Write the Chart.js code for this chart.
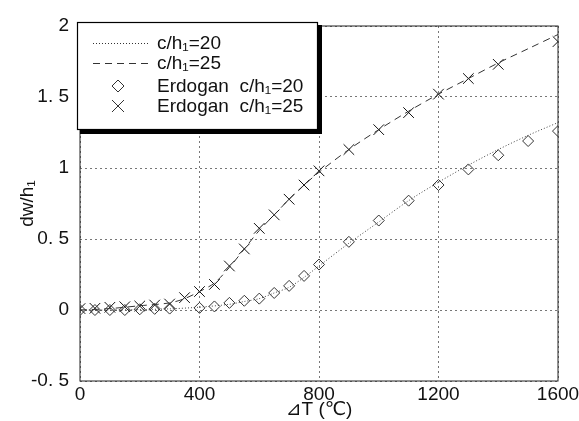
<!DOCTYPE html>
<html><head><meta charset="utf-8">
<script src="https://cdn.jsdelivr.net/npm/chart.js@4"></script>
<style>html,body{margin:0;padding:0;background:#fff}#wrap{width:579px;height:421px}</style>
</head><body><div id="wrap"><canvas id="c" width="579" height="421"></canvas></div>
<script>
const lineX20 = [0,100,200,300,400,500,550,600,650,700,750,800,900,1000,1100,1200,1300,1400,1500,1600];
const lineY20 = [0,0,0.003,0.008,0.02,0.04,0.06,0.08,0.12,0.16,0.23,0.31,0.47,0.62,0.77,0.90,1.02,1.13,1.23,1.32];
const lineX25 = [0,100,200,300,350,400,450,500,550,600,650,700,750,800,900,1000,1100,1200,1300,1400,1500,1600];
const lineY25 = [0,0.01,0.03,0.05,0.08,0.13,0.19,0.30,0.43,0.56,0.67,0.78,0.88,0.97,1.13,1.27,1.40,1.52,1.63,1.74,1.84,1.94];
const erdX20 = [0,50,100,150,200,250,300,400,450,500,550,600,650,700,750,800,900,1000,1100,1200,1300,1400,1500,1600];
const erdY20 = [0,0,0,0,0.005,0.008,0.01,0.015,0.025,0.05,0.065,0.08,0.12,0.17,0.24,0.32,0.48,0.63,0.77,0.88,0.99,1.09,1.19,1.26];
const erdX25 = [0,50,100,150,200,250,300,350,400,450,500,550,600,650,700,750,800,900,1000,1100,1200,1300,1400,1600];
const erdY25 = [0.01,0.012,0.019,0.023,0.028,0.035,0.042,0.087,0.13,0.18,0.31,0.43,0.575,0.67,0.78,0.88,0.98,1.13,1.27,1.39,1.52,1.63,1.73,1.89];
const labels = ['c/h\u2081=20','c/h\u2081=25','Erdogan  c/h\u2081=20','Erdogan  c/h\u2081=25'];
const xTicks = [0,400,800,1200,1600];
const yTicks = [-0.5,0,0.5,1,1.5,2];

const pts = (xs, ys) => xs.map((x,i)=>({x:x,y:ys[i]}));
const FONT = '"Liberation Sans","DejaVu Sans",sans-serif';

const frameLegend = {
  id:'frameLegend',
  afterDraw(chart){
    const ctx = chart.ctx, a = chart.chartArea;
    ctx.save();
    ctx.strokeStyle = '#222'; ctx.lineWidth = 1; ctx.setLineDash([]);
    ctx.strokeRect(a.left, a.top, a.right-a.left, a.bottom-a.top);
    const L=77, T=22, R=318, B=130;
    ctx.fillStyle='#000';
    ctx.fillRect(R-1, T+3, 5, B-T+1);
    ctx.fillRect(L+3, B-1, R-L+1, 5);
    ctx.fillStyle='#fff';
    ctx.fillRect(L, T, R-L, B-T);
    ctx.strokeStyle='#000'; ctx.lineWidth=1.2;
    ctx.strokeRect(L+0.5, T+0.5, R-L-1, B-T-1);
    const ys=[43,63,86,106];
    ctx.font = '19px '+FONT;
    ctx.textBaseline='middle'; ctx.textAlign='left';
    chart.data.datasets.forEach((ds,i)=>{
      const y=ys[i];
      ctx.strokeStyle='#333'; ctx.lineWidth=1;
      if(i<2){
        ctx.setLineDash(ds.borderDash);
        ctx.beginPath(); ctx.moveTo(93,y+0.5); ctx.lineTo(148,y+0.5); ctx.stroke();
        ctx.setLineDash([]);
      } else if(i===2){
        ctx.beginPath(); ctx.moveTo(118,y-6); ctx.lineTo(124,y); ctx.lineTo(118,y+6); ctx.lineTo(112,y); ctx.closePath(); ctx.stroke();
      } else {
        ctx.beginPath(); ctx.moveTo(112,y-6); ctx.lineTo(124,y+6); ctx.moveTo(124,y-6); ctx.lineTo(112,y+6); ctx.stroke();
      }
      ctx.fillStyle='#111';
      ctx.fillText(ds.label, 157, y+1);
    });
    ctx.restore();
  }
};

new Chart(document.getElementById('c'), {
  type:'scatter',
  data:{datasets:[
    {label:labels[0], data:pts(lineX20,lineY20), showLine:true, borderColor:'#444', borderWidth:1, borderDash:[1,2], pointRadius:0, tension:0.3},
    {label:labels[1], data:pts(lineX25,lineY25), showLine:true, borderColor:'#333', borderWidth:1, borderDash:[7,5], pointRadius:0, tension:0.3},
    {label:labels[2], data:pts(erdX20,erdY20), showLine:false, pointStyle:'rectRot', pointRadius:5.5, borderColor:'#333', backgroundColor:'rgba(255,255,255,0)', pointBorderWidth:1},
    {label:labels[3], data:pts(erdX25,erdY25), showLine:false, pointStyle:'crossRot', pointRadius:7.5, borderColor:'#111', pointBorderWidth:1}
  ]},
  options:{
    responsive:false, animation:false,
    layout:{padding:{top:26,right:21,left:0,bottom:0}},
    plugins:{legend:{display:false}, tooltip:{enabled:false}},
    scales:{
      x:{type:'linear', min:0, max:1600,
        afterBuildTicks(s){ s.ticks = xTicks.map(v=>({value:v})); },
        afterFit(s){ s.height = 40; s.paddingLeft = 0; s.paddingRight = 0; },
        grid:{color:'#777', lineWidth:1, drawTicks:false},
        border:{display:false, dash:[2,3]},
        ticks:{color:'#111', font:{family:FONT, size:19}, padding:2, maxRotation:0, callback:v=>String(v)},
        title:{display:true, text:'\u22BFT (\u2103)', color:'#111', font:{family:FONT, size:19}, padding:{top:-8,bottom:0}}
      },
      y:{type:'linear', min:-0.5, max:2,
        afterBuildTicks(s){ s.ticks = yTicks.map(v=>({value:v})); },
        afterFit(s){ s.width = 80; s.paddingTop = 0; s.paddingBottom = 0; },
        grid:{color:'#777', lineWidth:1, drawTicks:false},
        border:{display:false, dash:[2,3]},
        ticks:{color:'#111', font:{family:FONT, size:19}, padding:11, callback:v=>String(v).replace('.', '. ')},
        title:{display:true, text:'dw/h\u2081', color:'#111', font:{family:FONT, size:19}, padding:{top:16,bottom:0}}
      }
    }
  },
  plugins:[frameLegend]
});
</script></body></html>
